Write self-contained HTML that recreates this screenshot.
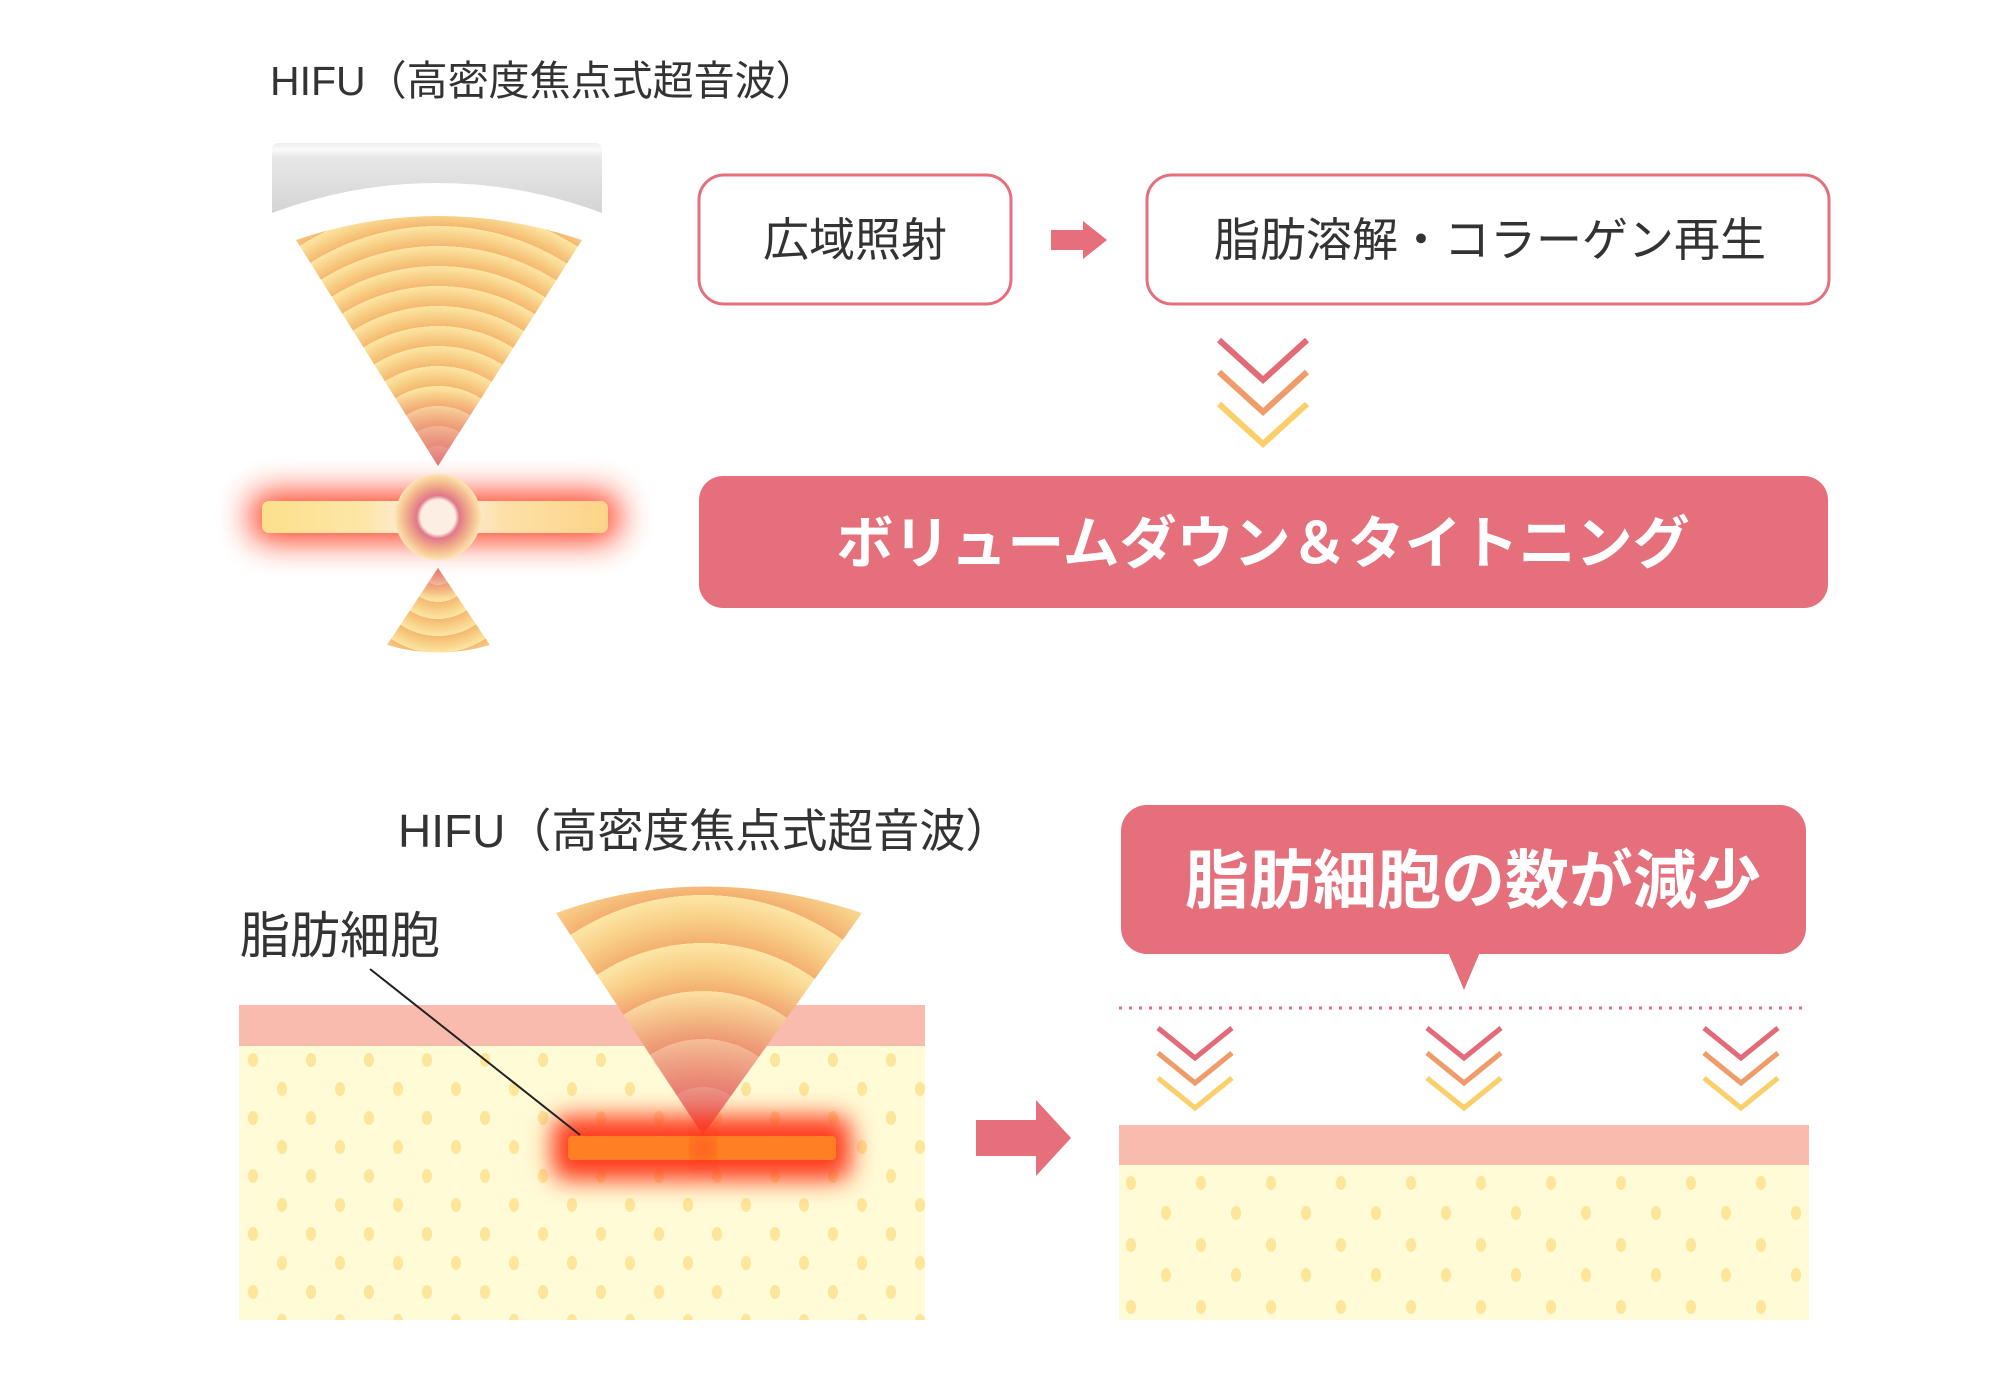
<!DOCTYPE html>
<html><head><meta charset="utf-8"><style>
html,body{margin:0;padding:0;background:#fff;}
svg{display:block}
text{font-family:"Liberation Sans","Noto Sans CJK JP",sans-serif;}
</style></head><body>
<svg width="2000" height="1400" viewBox="0 0 2000 1400" xmlns="http://www.w3.org/2000/svg">
<defs>
 <linearGradient id="gray" x1="0" y1="0" x2="0" y2="1">
  <stop offset="0" stop-color="#eeeeee"/><stop offset="0.1" stop-color="#fafafa"/><stop offset="0.2" stop-color="#e8e8e8"/><stop offset="1" stop-color="#d4d4d4"/>
 </linearGradient>
 <radialGradient id="w1" gradientUnits="userSpaceOnUse" cx="438" cy="466" r="20" spreadMethod="repeat">
  <stop offset="0" stop-color="#f5b870"/><stop offset="0.5" stop-color="#f8d087"/><stop offset="1" stop-color="#fde6a4"/>
 </radialGradient>
 <linearGradient id="fadeTop" x1="0" y1="0" x2="0" y2="1">
  <stop offset="0.7" stop-color="#e87880" stop-opacity="0"/><stop offset="1" stop-color="#e07080" stop-opacity="0.9"/>
 </linearGradient>
 <radialGradient id="w2" gradientUnits="userSpaceOnUse" cx="438" cy="568" r="17" spreadMethod="repeat">
  <stop offset="0" stop-color="#f5b870"/><stop offset="0.5" stop-color="#f8d087"/><stop offset="1" stop-color="#fde6a4"/>
 </radialGradient>
 <linearGradient id="fadeBot" x1="0" y1="0" x2="0" y2="1">
  <stop offset="0" stop-color="#e07080" stop-opacity="0.9"/><stop offset="0.35" stop-color="#e87880" stop-opacity="0"/>
 </linearGradient>
 <radialGradient id="w3" gradientUnits="userSpaceOnUse" cx="703" cy="1135" r="48" spreadMethod="repeat">
  <stop offset="0" stop-color="#f4b070"/><stop offset="0.5" stop-color="#f8cf88"/><stop offset="1" stop-color="#fde6a6"/>
 </radialGradient>
 <linearGradient id="fade3" x1="0" y1="0" x2="0" y2="1">
  <stop offset="0.4" stop-color="#e87880" stop-opacity="0"/><stop offset="1" stop-color="#e06070" stop-opacity="0.95"/>
 </linearGradient>
 <linearGradient id="bar" x1="0" y1="0" x2="1" y2="0">
  <stop offset="0" stop-color="#fde08c"/><stop offset="0.3" stop-color="#fde6a8"/><stop offset="0.45" stop-color="#fdece0"/><stop offset="0.55" stop-color="#fdece0"/><stop offset="0.7" stop-color="#fde0a8"/><stop offset="1" stop-color="#fcd488"/>
 </linearGradient>
 <radialGradient id="ring" cx="0.5" cy="0.5" r="0.5">
  <stop offset="0" stop-color="#fdeee4"/><stop offset="0.4" stop-color="#fdeee4"/><stop offset="0.5" stop-color="#e07888"/><stop offset="0.75" stop-color="#f2b08a"/><stop offset="1" stop-color="#fde6b0"/>
 </radialGradient>
 <filter id="blur" x="-30%" y="-200%" width="160%" height="500%"><feGaussianBlur stdDeviation="16"/></filter>
 <filter id="blur2" x="-30%" y="-200%" width="160%" height="500%"><feGaussianBlur stdDeviation="12"/></filter>
 <pattern id="dots" x="239" y="1046" width="58" height="58" patternUnits="userSpaceOnUse">
  <rect width="58" height="58" fill="#fffbd6"/>
  <ellipse cx="14" cy="14" rx="5" ry="7" fill="#fde59a"/>
  <ellipse cx="43" cy="43" rx="5" ry="7" fill="#fde59a"/>
 </pattern>
 <pattern id="dots2" x="1119" y="1165" width="70" height="62" patternUnits="userSpaceOnUse">
  <rect width="70" height="62" fill="#fffbd6"/>
  <ellipse cx="12" cy="18" rx="5" ry="7" fill="#fde59a"/>
  <ellipse cx="47" cy="48" rx="5" ry="7" fill="#fde59a"/>
 </pattern>
 <g id="chev">
  <polyline points="-44,-40 0,0 44,-40" fill="none" stroke="#e36b78" stroke-width="6"/>
  <polyline points="-44,-8 0,32 44,-8" fill="none" stroke="#ef9b6a" stroke-width="6"/>
  <polyline points="-44,24 0,64 44,24" fill="none" stroke="#fbcf6a" stroke-width="6"/>
 </g>
 <g id="chevs">
  <polyline points="-37,-30 0,0 37,-30" fill="none" stroke="#e36b78" stroke-width="5"/>
  <polyline points="-37,-5 0,25 37,-5" fill="none" stroke="#ef9b6a" stroke-width="5"/>
  <polyline points="-37,20 0,50 37,20" fill="none" stroke="#fbcf6a" stroke-width="5"/>
 </g>
</defs>

<!-- TOP -->
<text x="270" y="95" font-size="41" fill="#333">HIFU（高密度焦点式超音波）</text>
<path d="M272,150 q0,-7 7,-7 h316 q7,0 7,7 v63 q-80,-30 -165,-30 q-85,0 -165,30 z" fill="url(#gray)"/>
<path d="M296,240 Q438,192 582,240 L438,466 Z" fill="url(#w1)"/>
<path d="M296,240 Q438,192 582,240 L438,466 Z" fill="url(#fadeTop)"/>
<path d="M387,645 Q438,660 490,645 L438,568 Z" fill="url(#w2)"/>
<path d="M387,645 Q438,660 490,645 L438,568 Z" fill="url(#fadeBot)"/>
<rect x="250" y="492" width="370" height="50" rx="20" fill="#ff3b1e" filter="url(#blur)" opacity="0.95"/>
<rect x="262" y="501" width="346" height="32" rx="7" fill="url(#bar)"/>
<circle cx="438" cy="517" r="43" fill="url(#ring)"/>

<rect x="699" y="175" width="312" height="129" rx="25" fill="#fff" stroke="#e56f7b" stroke-width="3"/>
<text x="855" y="256" font-size="46" fill="#333" text-anchor="middle">広域照射</text>
<polygon points="1051,230 1083,230 1083,221 1107,240 1083,259 1083,250 1051,250" fill="#e56f7b"/>
<rect x="1147" y="175" width="682" height="129" rx="25" fill="#fff" stroke="#e56f7b" stroke-width="3"/>
<text x="1490" y="256" font-size="46" fill="#333" text-anchor="middle">脂肪溶解・コラーゲン再生</text>
<use href="#chev" x="1263" y="380"/>
<rect x="699" y="476" width="1129" height="132" rx="24" fill="#e56f7b"/>
<text x="1263" y="563" font-size="57" font-weight="bold" fill="#fff" text-anchor="middle">ボリュームダウン＆タイトニング</text>

<!-- BOTTOM LEFT -->
<text x="398" y="847" font-size="46" fill="#333">HIFU（高密度焦点式超音波）</text>
<text x="240" y="953" font-size="50" fill="#333">脂肪細胞</text>
<rect x="239" y="1005" width="686" height="41" fill="#f9bbae"/>
<rect x="239" y="1046" width="686" height="274" fill="url(#dots)"/>
<path d="M556,913 Q703,860 862,913 L703,1135 Z" fill="url(#w3)"/>
<path d="M556,913 Q703,860 862,913 L703,1135 Z" fill="url(#fade3)"/>
<rect x="552" y="1116" width="299" height="64" rx="15" fill="#ff3b1e" filter="url(#blur2)"/>
<rect x="568" y="1136" width="268" height="24" rx="4" fill="#ff7f22"/>
<circle cx="703" cy="1148" r="9" fill="#ff2a1a" filter="url(#blur2)"/>
<line x1="370" y1="969" x2="580" y2="1135" stroke="#222" stroke-width="2"/>
<polygon points="976,1120 1036,1120 1036,1100 1071,1138 1036,1176 1036,1156 976,1156" fill="#e56f7b"/>

<!-- BOTTOM RIGHT -->
<rect x="1121" y="805" width="685" height="149" rx="26" fill="#e56f7b"/>
<polygon points="1448,952 1480,952 1464,990" fill="#e56f7b"/>
<text x="1473" y="903" font-size="64" font-weight="bold" fill="#fff" text-anchor="middle">脂肪細胞の数が減少</text>
<line x1="1119" y1="1008" x2="1809" y2="1008" stroke="#e56f7b" stroke-width="3" stroke-dasharray="3 7"/>
<use href="#chevs" x="1195" y="1058"/>
<use href="#chevs" x="1464" y="1058"/>
<use href="#chevs" x="1741" y="1058"/>
<rect x="1119" y="1125" width="690" height="40" fill="#f9bbae"/>
<rect x="1119" y="1165" width="690" height="155" fill="url(#dots2)"/>
</svg>
</body></html>
